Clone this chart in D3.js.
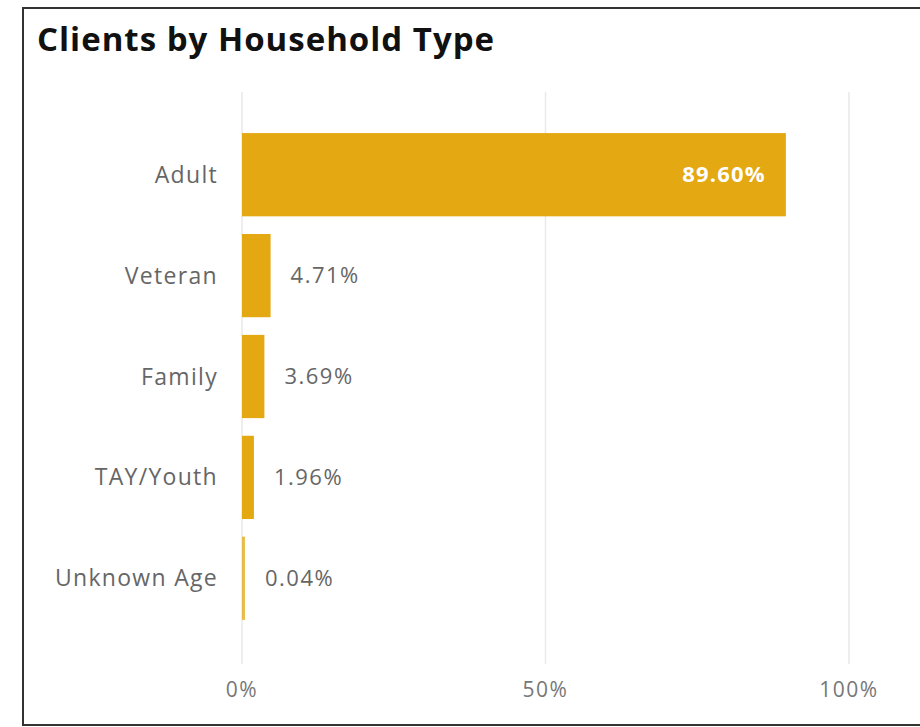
<!DOCTYPE html>
<html lang="en">
<head>
    <meta charset="UTF-8">
    <title>Clients by Household Type</title>
    <script src="https://d3js.org/d3.v7.min.js"></script>
    <style>
        body { margin: 0; background: #fff; }
        svg text { font-family: "Segoe UI", "Open Sans", "Noto Sans", sans-serif; }
    </style>
</head>
<body>
<svg id="chart" width="920" height="727"></svg>
<script>
    const categories = ["Adult", "Veteran", "Family", "TAY/Youth", "Unknown Age"];
    const values = [89.60, 4.71, 3.69, 1.96, 0.04];
    const tickValues = [0, 50, 100];

    const width = 920, height = 727;
    const svg = d3.select("#chart");

    // card border
    svg.append("rect")
        .attr("x", 23).attr("y", 8)
        .attr("width", 920).attr("height", 717)
        .attr("fill", "#fff")
        .attr("stroke", "#333").attr("stroke-width", 2);

    svg.append("text")
        .attr("x", 37).attr("y", 51)
        .attr("font-size", 33).attr("font-weight", "bold")
        .attr("letter-spacing", 1)
        .attr("fill", "#111")
        .text("Clients by Household Type");

    const x = d3.scaleLinear().domain([0, 100]).range([242, 849]);
    const y = d3.scaleBand().domain(categories).range([124, 629]).paddingInner(0.175).paddingOuter(0.09);

    // gridlines
    svg.append("g").selectAll("line")
        .data(tickValues)
        .join("line")
        .attr("x1", d => x(d)).attr("x2", d => x(d))
        .attr("y1", 92).attr("y2", 664)
        .attr("stroke", "#e9e9e9").attr("stroke-width", 1.5);

    // x tick labels
    svg.append("g").selectAll("text")
        .data(tickValues)
        .join("text")
        .attr("x", d => x(d)).attr("y", 697)
        .attr("text-anchor", "middle")
        .attr("font-size", 21).attr("letter-spacing", 1.5).attr("fill", "#777")
        .text(d => d + "%");

    const rows = categories.map((c, i) => ({ cat: c, val: values[i] }));

    // bars
    svg.append("g").selectAll("rect")
        .data(rows)
        .join("rect")
        .attr("x", x(0))
        .attr("y", d => y(d.cat))
        .attr("width", d => Math.max(x(d.val) - x(0), 3))
        .attr("height", y.bandwidth())
        .attr("fill", "#E3A812")
        .attr("fill-opacity", d => d.val < 0.5 ? 0.75 : 1);

    // category labels
    svg.append("g").selectAll("text")
        .data(rows)
        .join("text")
        .attr("x", 218)
        .attr("y", d => y(d.cat) + y.bandwidth() / 2)
        .attr("dy", "0.35em")
        .attr("text-anchor", "end")
        .attr("font-size", 23).attr("letter-spacing", 1.3).attr("fill", "#666")
        .text(d => d.cat);

    // data labels
    svg.append("g").selectAll("text")
        .data(rows)
        .join("text")
        .attr("x", d => d.val > 50 ? x(d.val) - 20 : Math.max(x(d.val), x(0) + 3) + 20)
        .attr("y", d => y(d.cat) + y.bandwidth() / 2)
        .attr("dy", "0.35em")
        .attr("text-anchor", d => d.val > 50 ? "end" : "start")
        .attr("font-size", 22)
        .attr("letter-spacing", d => d.val > 50 ? 1.2 : 1.5)
        .attr("font-weight", d => d.val > 50 ? "bold" : "normal")
        .attr("fill", d => d.val > 50 ? "#fff" : "#666")
        .text(d => d.val.toFixed(2) + "%");
</script>
</body>
</html>
